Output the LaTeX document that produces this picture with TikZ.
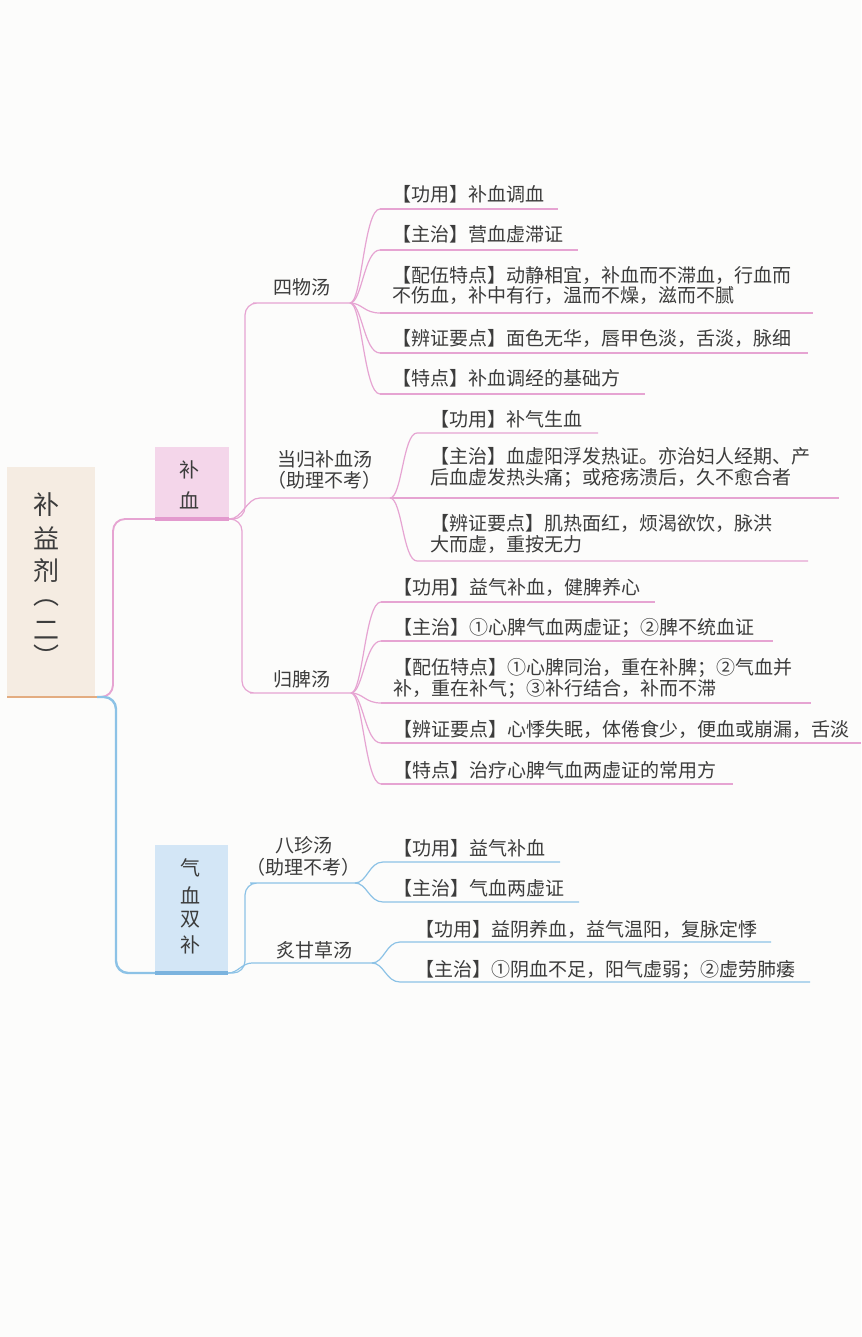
\documentclass[tikz,border=0pt]{standalone}
\usepackage{fontspec}
\setmainfont{Noto Sans CJK SC}
\definecolor{pinkl}{HTML}{E6A4D2}
\definecolor{pinkbox}{HTML}{F4D6EA}
\definecolor{pinkbar}{HTML}{E39ACE}
\definecolor{bluel}{HTML}{8CC2E6}
\definecolor{bluebox}{HTML}{D3E6F6}
\definecolor{bluebar}{HTML}{7BB3DE}
\definecolor{beige}{HTML}{F5ECE2}
\definecolor{orangebar}{HTML}{E3AC80}
\definecolor{txt}{HTML}{3C3C3C}
\definecolor{paper}{HTML}{FCFCFB}
\begin{document}
\begin{tikzpicture}[x=0.75pt,y=-0.75pt,
  leaf/.style={anchor=base west,inner sep=0pt,font=\fontsize{14.25pt}{17pt}\selectfont,text=txt},
  lbl/.style={anchor=base,inner sep=0pt,font=\fontsize{14.25pt}{17pt}\selectfont,text=txt},
  boxch/.style={anchor=center,inner sep=0pt,font=\fontsize{15pt}{18pt}\selectfont,text=txt},
  rootch/.style={anchor=center,inner sep=0pt,font=\fontsize{19.5pt}{22pt}\selectfont,text=txt},
  pl/.style={draw=pinkl,line width=0.9pt},
  bl/.style={draw=bluel,line width=0.9pt},
  pmain/.style={draw=pinkl,line width=1.4pt,rounded corners=9pt},
  bmain/.style={draw=bluel,line width=1.8pt,rounded corners=9pt},
  boxnode/.style={inner sep=0pt,outer sep=0pt,draw=none}]
\useasboundingbox (0,0) rectangle (861,1337);
\fill[paper] (0,0) rectangle (861,1337);

% ---------- boxes ----------
\node[boxnode,fill=beige,minimum width=66pt,minimum height=172.5pt] (root) at (51,582) {};
\node[boxnode,fill=pinkbox,minimum width=55.5pt,minimum height=54pt] (bx) at (192,483) {};
\node[boxnode,fill=bluebox,minimum width=54.75pt,minimum height=96pt] (qx) at (191.5,909) {};

% ---------- junction coordinates ----------
\coordinate (J0) at (97,697);
\coordinate (J1) at (350,303);
\coordinate (J2) at (390,498);
\coordinate (J3) at (351,693);
\coordinate (J4) at (355,883);
\coordinate (J5) at (372,963);
\coordinate (S1) at (265,303);
\coordinate (S2) at (260,498);
\coordinate (S3) at (262,693);
\coordinate (S4) at (262,883);
\coordinate (S5) at (252,963);

% leaf underline starts / ends
\coordinate (a1s) at (380,209); \coordinate (a1e) at (558,209);
\coordinate (a2s) at (380,250); \coordinate (a2e) at (578,250);
\coordinate (a3s) at (380,313); \coordinate (a3e) at (813,313);
\coordinate (a4s) at (380,353); \coordinate (a4e) at (808,353);
\coordinate (a5s) at (380,394); \coordinate (a5e) at (645,394);
\coordinate (b1s) at (417,433); \coordinate (b1e) at (598,433);
\coordinate (b2e) at (839,498);
\coordinate (b3s) at (417,561); \coordinate (b3e) at (808,561);
\coordinate (c1s) at (381,602); \coordinate (c1e) at (655,602);
\coordinate (c2s) at (381,641); \coordinate (c2e) at (773,641);
\coordinate (c3s) at (381,703); \coordinate (c3e) at (811,703);
\coordinate (c4s) at (381,743); \coordinate (c4e) at (861,743);
\coordinate (c5s) at (381,784); \coordinate (c5e) at (733,784);
\coordinate (d1s) at (383,862); \coordinate (d1e) at (560,862);
\coordinate (d2s) at (383,902); \coordinate (d2e) at (579,902);
\coordinate (e1s) at (400,942); \coordinate (e1e) at (771,942);
\coordinate (e2s) at (400,982); \coordinate (e2e) at (810,982);

% ---------- main connectors ----------
\draw[pmain] (J0) -- ++(16,0) |- (bx.south west);
\draw[bmain] (J0) -- ++(19,0) |- (qx.south west);

\draw[pl,rounded corners=9pt] (bx.south east) -- ++(16,0) |- (S1) -- (J1);
\draw[pl] (bx.south east) .. controls +(14,0) and +(-14,0) .. (S2) -- (J2);
\draw[pl,rounded corners=9pt] (bx.south east) -- ++(13,0) |- (S3) -- (J3);

\draw[bl,rounded corners=9pt] (qx.south east) -- ++(17,0) |- (S4) -- (J4);
\draw[bl] (qx.south east) .. controls +(10,0) and +(-10,0) .. (S5) -- (J5);

% ---------- leaf branches ----------
\foreach \c in {a1s,a2s,a3s,a4s,a5s}{\draw[pl] (J1) .. controls +(12,0) and +(-16,0) .. (\c);}
\draw[pl] (a1s) -- (a1e); \draw[pl] (a2s) -- (a2e); \draw[pl] (a3s) -- (a3e);
\draw[pl] (a4s) -- (a4e); \draw[pl] (a5s) -- (a5e);

\draw[pl] (J2) .. controls +(12,0) and +(-14,0) .. (b1s) -- (b1e);
\draw[pl] (J2) -- (b2e);
\draw[pl] (J2) .. controls +(12,0) and +(-14,0) .. (b3s) -- (b3e);

\foreach \c in {c1s,c2s,c3s,c4s,c5s}{\draw[pl] (J3) .. controls +(12,0) and +(-16,0) .. (\c);}
\draw[pl] (c1s) -- (c1e); \draw[pl] (c2s) -- (c2e); \draw[pl] (c3s) -- (c3e);
\draw[pl] (c4s) -- (c4e); \draw[pl] (c5s) -- (c5e);

\draw[bl] (J4) .. controls +(12,0) and +(-14,0) .. (d1s) -- (d1e);
\draw[bl] (J4) .. controls +(12,0) and +(-14,0) .. (d2s) -- (d2e);
\draw[bl] (J5) .. controls +(12,0) and +(-14,0) .. (e1s) -- (e1e);
\draw[bl] (J5) .. controls +(12,0) and +(-14,0) .. (e2s) -- (e2e);

% ---------- bars ----------
\draw[orangebar,line width=2.2pt] (root.south west) -- (J0);
\draw[pinkbar,line width=2.4pt] (bx.south west) -- (bx.south east);
\draw[bluebar,line width=2.4pt] (qx.south west) -- (qx.south east);

% ---------- box texts ----------
\node[rootch] (r1) at (46,505) {补};
\node[rootch] (r2) at (46,538) {益};
\node[rootch] (r3) at (46,571) {剂};
\node[rootch] (r4) at (46,603) {︵};
\node[rootch] (r5) at (46,630) {二};
\node[rootch] (r6) at (46,656) {︶};

\node[boxch] (p1) at (189,470) {补};
\node[boxch] (p2) at (189,500) {血};

\node[boxch] (q1) at (190,868) {气};
\node[boxch] (q2) at (190,895) {血};
\node[boxch] (q3) at (190,920) {双};
\node[boxch] (q4) at (190,945) {补};

% ---------- sub-parent labels ----------
\node[lbl] (siwu) at (302,295) {四物汤};
\node[lbl] (dg1) at (325,466) {当归补血汤};
\node[lbl] (dg2) at (324,487) {（助理不考）};
\node[lbl] (gp) at (302,686) {归脾汤};
\node[lbl] (bz1) at (304,852) {八珍汤};
\node[lbl] (bz2) at (303,874) {（助理不考）};
\node[lbl] (zg) at (314,957) {炙甘草汤};

% ---------- leaf texts ----------
\node[leaf] (ta1) at (392,202) {【功用】补血调血};
\node[leaf] (ta2) at (392,242) {【主治】营血虚滞证};
\node[leaf] (ta3x) at (392,283) {【配伍特点】动静相宜，补血而不滞血，行血而};
\node[leaf] (ta3y) at (392,303) {不伤血，补中有行，温而不燥，滋而不腻};
\node[leaf] (ta4) at (392,345) {【辨证要点】面色无华，唇甲色淡，舌淡，脉细};
\node[leaf] (ta5) at (392,385) {【特点】补血调经的基础方};

\node[leaf] (tb1) at (430,426) {【功用】补气生血};
\node[leaf] (tb2x) at (430,463) {【主治】血虚阳浮发热证。亦治妇人经期、产};
\node[leaf] (tb2y) at (430,484) {后血虚发热头痛；或疮疡溃后，久不愈合者};
\node[leaf] (tb3x) at (430,530) {【辨证要点】肌热面红，烦渴欲饮，脉洪};
\node[leaf] (tb3y) at (430,551) {大而虚，重按无力};

\node[leaf] (tc1) at (393,594) {【功用】益气补血，健脾养心};
\node[leaf] (tc2) at (393,634) {【主治】①心脾气血两虚证；②脾不统血证};
\node[leaf] (tc3x) at (393,674) {【配伍特点】①心脾同治，重在补脾；②气血并};
\node[leaf] (tc3y) at (393,695) {补，重在补气；③补行结合，补而不滞};
\node[leaf] (tc4) at (393,736) {【辨证要点】心悸失眠，体倦食少，便血或崩漏，舌淡};
\node[leaf] (tc5) at (393,777) {【特点】治疗心脾气血两虚证的常用方};

\node[leaf] (td1) at (393,855) {【功用】益气补血};
\node[leaf] (td2) at (393,895) {【主治】气血两虚证};

\node[leaf] (te1) at (415,936) {【功用】益阴养血，益气温阳，复脉定悸};
\node[leaf] (te2) at (415,976) {【主治】①阴血不足，阳气虚弱；②虚劳肺痿};
\end{tikzpicture}
\end{document}
